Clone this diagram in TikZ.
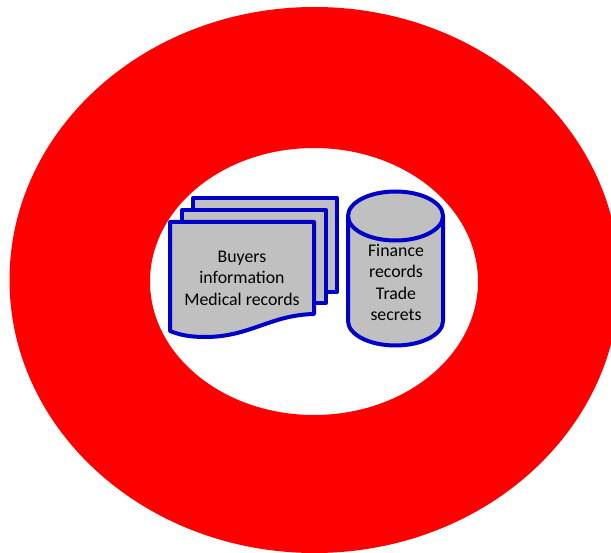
\documentclass[tikz,border=0pt]{standalone}
\usepackage{fontspec}
\setmainfont{Carlito}
\definecolor{docblue}{RGB}{0,0,200}
\definecolor{docgray}{RGB}{192,192,192}
\tikzset{
  shapeline/.style={draw=docblue,line width=4pt,fill=docgray,line join=round},
  lbl/.style={align=center,font=\fontsize{17.8pt}{21.6pt}\selectfont,text=black,inner sep=0pt}
}
\begin{document}
\begin{tikzpicture}[x=1pt,y=-1pt]
\useasboundingbox (0,0) rectangle (611,553);
\fill[white] (0,0) rectangle (611,553);
\fill[red,even odd rule] (314.5,280) ellipse [x radius=305,y radius=273] (314,281.5) ellipse [x radius=164,y radius=133.5];
\path[shapeline] (193,198) -- (337,198) -- (337,292) -- (193,292) -- cycle;
\path[shapeline] (182,210) -- (326,210) -- (326,303) -- (182,303) -- cycle;
\path[shapeline] (170,222) -- (314,222) -- (314,314) .. controls (270,315) and (250,337) .. (205,337) .. controls (190,337) and (180,335) .. (170,331) -- cycle;
\path[shapeline] (348,216) -- (348,321) arc [start angle=180,end angle=0,x radius=47.5,y radius=24.5] -- (443,216) arc [start angle=0,end angle=-180,x radius=47.5,y radius=24.5] -- cycle;
\draw[draw=docblue,line width=4pt] (348,216) arc [start angle=180,end angle=0,x radius=47.5,y radius=24.5];
\node[lbl] (docs) at (242,278) {Buyers\\information\\Medical records};
\node[lbl] (cyl) at (396,282.5) {Finance\\records\\Trade\\secrets};
\end{tikzpicture}
\end{document}
